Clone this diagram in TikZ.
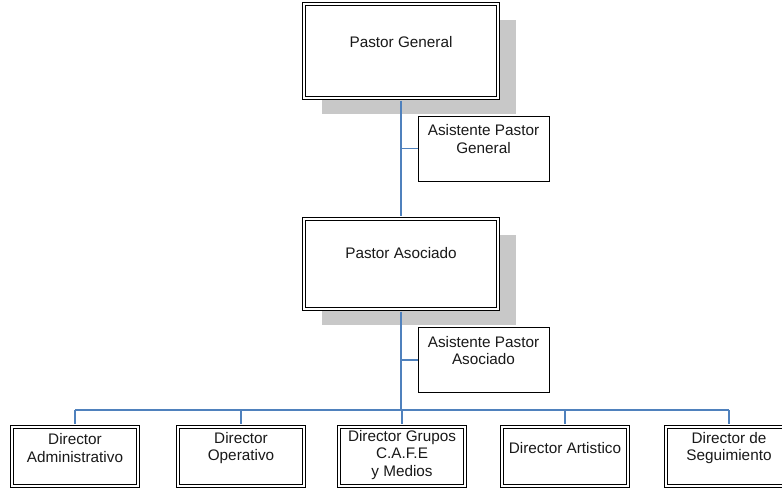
\documentclass[tikz,border=0pt]{standalone}
\usepackage{fontspec}
\setmainfont{Liberation Sans}
\usepackage{tikz}
\usetikzlibrary{positioning,shadows}

\definecolor{linkblue}{RGB}{79,129,189}
\definecolor{shadowgray}{RGB}{200,200,200}

\begin{document}
\begin{tikzpicture}[x=1pt,y=-1pt,font=\fontsize{15.3}{17.8}\selectfont,
  pastorbox/.style={draw=black,double=white,double distance=2pt,line width=1.2pt,
    fill=white,minimum width=193.6pt,inner sep=0pt,
    drop shadow={shadow xshift=18pt,shadow yshift=-16pt,fill=shadowgray,opacity=1}},
  asstbox/.style={draw=black,line width=1pt,fill=white,minimum width=131pt,
    minimum height=65pt,inner sep=0pt},
  dirbox/.style={draw=black,double=white,double distance=2pt,line width=1.2pt,
    fill=white,minimum width=125.6pt,minimum height=58.6pt,inner sep=0pt},
  txt/.style={align=center,inner sep=0pt,text=black!90},
  link/.style={draw=linkblue,line width=1.3pt}]
\clip (0,0) rectangle (782,490);

% pastores
\node[pastorbox,minimum height=93.6pt] (pg) at (401,51) {};
\node[txt] (pgt) at ([yshift=9pt]pg.center) {Pastor General};
\node[pastorbox,minimum height=89.6pt] (pa) at (401,264) {};
\node[txt] (pat) at ([yshift=11pt]pa.center) {Pastor Asociado};

% asistentes
\node[asstbox] (ag) at (483.5,148.5) {};
\node[txt] (agt) at ([yshift=9.5pt]ag.center) {Asistente Pastor\\General};
\node[asstbox] (aa) at (483.5,360) {};
\node[txt] (aat) at ([yshift=9.5pt]aa.center) {Asistente Pastor\\Asociado};

% directores
\foreach \n/\x in {d1/75,d2/241,d3/402,d4/565,d5/729}
  \node[dirbox] (\n) at (\x,456.5) {};
\node[txt] (d1t) at ([yshift=8.5pt]d1.center) {Director\\Administrativo};
\node[txt] (d2t) at ([yshift=8.5pt]d2.center) {Director\\Operativo};
\node[txt] (d3t) at ([yshift=1.5pt]d3.center) {Director Grupos\\C.A.F.E\\y Medios};
\node[txt] (d4t) at ([yshift=8.5pt]d4.center) {Director Artistico};
\node[txt] (d5t) at ([yshift=8.5pt]d5.center) {Director de\\Seguimiento};

% conectores
\coordinate (bus) at (401,410);
\draw[link,shorten <=2.2pt,shorten >=2.2pt] (pg.south) -- (pa.north);
\draw[link] (pg.south |- ag.west) -- (ag.west);
\draw[link,shorten <=2.2pt] (pa.south) -- (bus);
\draw[link] (pa.south |- aa.west) -- (aa.west);
\draw[link] (d1.north |- bus) -- (d5.north |- bus);
\foreach \n in {d1,d2,d3,d4,d5}
  \draw[link,shorten >=2.2pt] (\n.north |- bus) -- (\n.north);
\end{tikzpicture}
\end{document}
